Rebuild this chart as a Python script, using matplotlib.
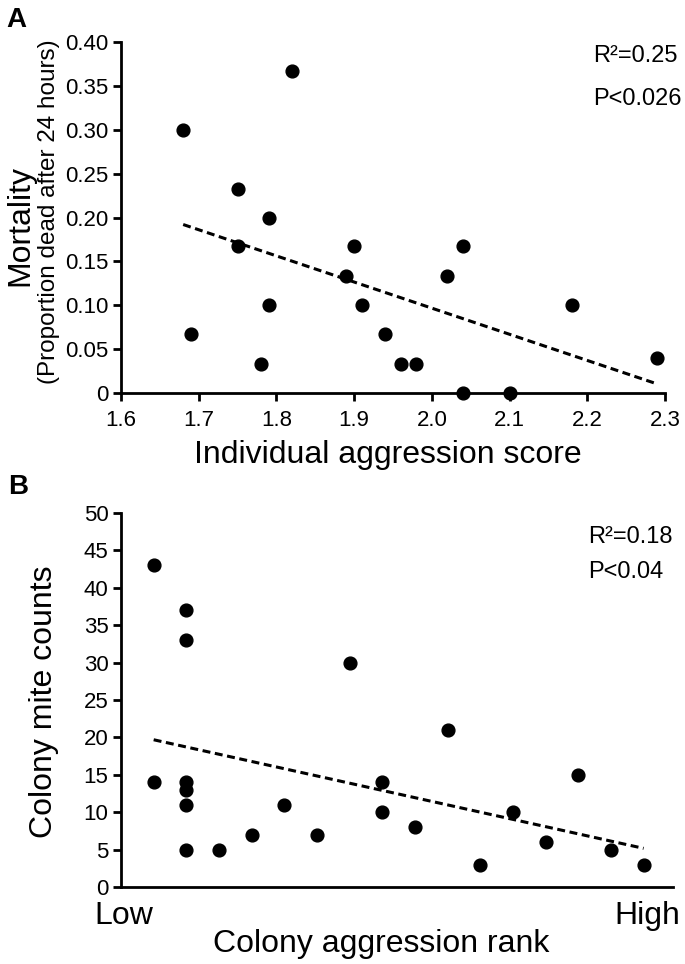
import numpy as np
import matplotlib
matplotlib.use("Agg")
import matplotlib.pyplot as plt
from matplotlib.ticker import FixedLocator, FuncFormatter

plt.rcParams['font.family'] = ['Liberation Sans', 'DejaVu Sans']

# ---------------- data ----------------
# Panel A: individual aggression score vs mortality
agg_score = [1.68, 1.82, 1.69, 1.75, 1.75, 1.78, 1.79, 1.79, 1.89, 1.90,
             1.91, 1.94, 1.96, 1.98, 2.02, 2.04, 2.04, 2.10, 2.18, 2.29]
mortality = [0.300, 0.367, 0.067, 0.233, 0.167, 0.033, 0.200, 0.100, 0.133, 0.167,
             0.100, 0.067, 0.033, 0.033, 0.133, 0.167, 0.000, 0.000, 0.100, 0.040]
a_xticks = [1.6, 1.7, 1.8, 1.9, 2.0, 2.1, 2.2, 2.3]
a_yticks = [0, 0.05, 0.10, 0.15, 0.20, 0.25, 0.30, 0.35, 0.40]
a_stats = ["R\u00b2=0.25", "P<0.026"]

# Panel B: colony aggression rank vs mite counts
colony_rank = [1, 1, 2, 2, 2, 2, 2, 2, 3, 4, 5, 6, 7, 8, 8, 9, 10, 11, 12, 13, 14, 15, 16]
mite_counts = [43, 14, 37, 33, 14, 13, 11, 5, 5, 7, 11, 7, 30, 14, 10, 8, 21, 3, 10, 6, 15, 5, 3]
b_yticks = [0, 5, 10, 15, 20, 25, 30, 35, 40, 45, 50]
b_xticklabels = ["Low", "High"]
b_stats = ["R\u00b2=0.18", "P<0.04"]

# ---------------- figure ----------------
W, H = 685, 964
fig = plt.figure(figsize=(W / 100, H / 100), dpi=100)

def fx(px):
    return px / W

def fy(py):
    return 1 - py / H

SPINE_W = 2.0
TICK_FS = 16
LABEL_FS = 23
STAT_FS = 17
DASH = (0, (2.6, 1.5))

def style_axes(ax):
    for s in ['top', 'right']:
        ax.spines[s].set_visible(False)
    for s in ['left', 'bottom']:
        ax.spines[s].set_linewidth(SPINE_W)
    ax.tick_params(axis='both', direction='out', length=6, width=SPINE_W,
                   labelsize=TICK_FS, pad=3)

# Panel A
axA = fig.add_axes([fx(121), fy(393), fx(665) - fx(121), fy(42) - fy(393)])
axA.plot(agg_score, mortality, 'o', color='black', markersize=9.2, clip_on=False, zorder=3)
xa = np.array(agg_score)
ya = np.array(mortality)
ka, ba = np.polyfit(xa, ya, 1)
xl = np.array([xa.min(), xa.max()])
axA.plot(xl, ka * xl + ba, color='black', lw=2.2, ls=DASH, zorder=2)
axA.set_xlim(1.6, 2.3)
axA.set_ylim(0, 0.40)
axA.xaxis.set_major_locator(FixedLocator(a_xticks))
axA.yaxis.set_major_locator(FixedLocator(a_yticks))
axA.xaxis.set_major_formatter(FuncFormatter(lambda v, p: f"{v:.1f}"))
axA.yaxis.set_major_formatter(FuncFormatter(lambda v, p: "0" if abs(v) < 1e-9 else f"{v:.2f}"))
style_axes(axA)
axA.tick_params(axis='x', pad=6)

fig.text(fx(388), fy(463), "Individual aggression score", fontsize=LABEL_FS,
         ha='center', va='baseline')
fig.text(fx(20), fy(225), "Mortality", fontsize=LABEL_FS, rotation=90,
         ha='center', va='center')
fig.text(fx(49), fy(212), "(Proportion dead after 24 hours)", fontsize=17.5, rotation=90,
         ha='center', va='center')
fig.text(fx(593), fy(62), a_stats[0], fontsize=STAT_FS, ha='left', va='baseline')
fig.text(fx(593), fy(105), a_stats[1], fontsize=STAT_FS, ha='left', va='baseline')
fig.text(fx(6), fy(27), "A", fontsize=20, fontweight='bold', ha='left', va='baseline')

# Panel B
axB = fig.add_axes([fx(121), fy(887), fx(673) - fx(121), fy(513) - fy(887)])
axB.plot(colony_rank, mite_counts, 'o', color='black', markersize=9.2, clip_on=False, zorder=3)
xb = np.array(colony_rank, dtype=float)
yb = np.array(mite_counts, dtype=float)
kb, bb = np.polyfit(xb, yb, 1)
xl = np.array([xb.min(), xb.max()])
axB.plot(xl, kb * xl + bb, color='black', lw=2.2, ls=DASH, zorder=2)
axB.set_xlim(0, 16.9)
axB.set_ylim(0, 50)
axB.yaxis.set_major_locator(FixedLocator(b_yticks))
axB.set_xticks([0.1, 16.1])
axB.set_xticklabels(b_xticklabels)
style_axes(axB)
axB.tick_params(axis='x', length=0, labelsize=LABEL_FS, pad=10)

fig.text(fx(381), fy(952), "Colony aggression rank", fontsize=LABEL_FS,
         ha='center', va='baseline')
fig.text(fx(44), fy(702), "Colony mite counts", fontsize=LABEL_FS, rotation=90,
         ha='center', va='center')
fig.text(fx(588), fy(543), b_stats[0], fontsize=STAT_FS, ha='left', va='baseline')
fig.text(fx(588), fy(578), b_stats[1], fontsize=STAT_FS, ha='left', va='baseline')
fig.text(fx(8), fy(494), "B", fontsize=20, fontweight='bold', ha='left', va='baseline')

fig.savefig("out.png", dpi=100)
